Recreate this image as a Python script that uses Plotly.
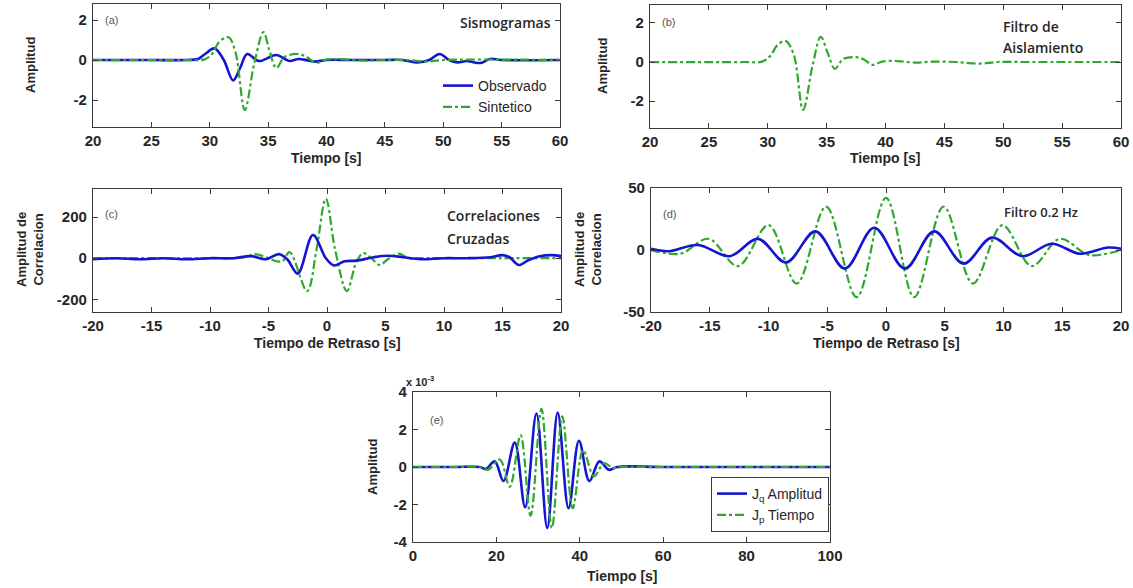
import plotly.graph_objects as go

W, H = 1133, 588

# ---------------- (a) Sismogramas ----------------
a_obs_t = [20, 25, 28, 29, 29.6, 30.4, 31.2, 32.0, 32.6, 33.2, 34.2, 35.7, 36.8, 37.6, 38.4, 39.0,
           40, 42, 45, 46.5, 47.8, 48.8, 49.7, 50.5, 51.2, 52.0, 52.5, 53.2, 54.0, 55, 60]
a_obs_v = [0, 0, 0, 0.05, 0.3, 0.58, 0, -1.02, -0.4, 0.3, -0.05, 0.25, -0.05, 0.05, -0.02, -0.08,
           0, 0, 0, 0, -0.12, 0, 0.3, 0, -0.12, -0.05, -0.1, -0.15, 0.05, 0, 0]
a_syn_t = [20, 28, 29.5, 30.2, 30.8, 31.6, 32.2, 33.0, 33.8, 34.6, 35.1, 35.7, 36.4, 37.6, 38.3,
           39.1, 39.8, 41, 43, 45, 47, 48.5, 50, 60]
a_syn_v = [0, 0, 0.02, 0.3, 0.9, 1.14, 0.4, -2.5, -0.2, 1.39, 0.5, -0.4, 0.15, 0.3, 0.15,
           -0.15, 0, 0.05, -0.03, 0, 0, -0.08, 0, 0]

# ---------------- (b) Filtro de Aislamiento ----------------
b_t = [20, 28, 29.5, 30.2, 30.8, 31.5, 32.2, 33.0, 33.8, 34.5, 35.1, 35.7, 36.4, 37.5, 38.2,
       38.9, 39.7, 41, 42.5, 44, 46, 48, 49.5, 52, 60]
b_v = [0, 0, 0.02, 0.3, 0.85, 1.08, 0.4, -2.45, -0.2, 1.29, 0.45, -0.35, 0.15, 0.25, 0.12,
       -0.15, 0.02, 0.05, -0.03, 0.02, 0, -0.08, 0, 0, 0]

# ---------------- (c) Correlaciones Cruzadas ----------------
c_obs_t = [-20, -18, -16, -14, -12, -10, -8, -6.5, -5.2, -4.1, -3.4, -2.5, -1.2, -0.1, 0.6, 1.5,
           2.5, 4, 5.2, 6.5, 8, 10, 12, 14, 15, 15.6, 16.4, 17.2, 18.2, 19.2, 20]
c_obs_v = [-5, 0, -5, 0, -5, 0, 0, 10, -5, 20, -5, -75, 113, 0, -35, -15,
           -12, 5, 12, 5, -5, 0, 0, 5, 15, 5, -33, -10, 10, 15, 10]
c_syn_t = [-20, -15, -10, -7, -6.2, -5.2, -4.3, -3.8, -3.2, -1.7, -0.9, -0.1, 0.7, 1.7, 2.5,
           3.1, 3.7, 4.5, 5.2, 6.1, 7, 8, 10, 15, 20]
c_syn_v = [0, 0, 0, 5, 20, 5, -15, -15, 30, -160, 40, 290, 40, -160, -20,
           25, 5, -33, -5, 22, 0, 0, 0, 0, 0]

# ---------------- (d) Filtro 0.2 Hz ----------------
d_obs_t = [-20, -18.5, -16, -13.3, -10.9, -8.5, -6.0, -3.5, -1.0, 1.6, 4.1, 6.6, 9.0, 11.6,
           14.1, 16.5, 18.9, 20]
d_obs_v = [1, -1, 4, -5, 9, -10, 15, -15, 18, -15, 15, -11, 10, -5, 5, -3, 2, 1]
d_syn_t = [-20, -17.5, -15.1, -12.6, -10, -7.6, -5.1, -2.5, 0, 2.4, 4.9, 7.4, 9.9, 12.4,
           14.8, 17.3, 20]
d_syn_v = [0, -3, 9, -13, 20, -27, 35, -38, 42, -38, 35, -27, 20, -13, 9, -4, 0]

# ---------------- (e) Jq / Jp (x 10^-3) ----------------
e_jq_t = [0, 10, 16, 17.5, 19.6, 21.7, 24.4, 26.9, 29.6, 32.2, 34.7, 37.3, 39.8, 42.3, 44.7,
          47, 49, 60, 80, 100]
e_jq_v = [0, 0, 0, -0.1, 0.3, -0.75, 1.3, -2.15, 2.85, -3.25, 2.9, -2.2, 1.4, -0.75, 0.3,
          -0.15, 0, 0, 0, 0]
e_jp_t = [0, 10, 16, 18, 20.8, 23.2, 25.8, 28.2, 30.8, 33.3, 35.8, 38.3, 40.8, 43.4, 45.8,
          48, 50, 60, 80, 100]
e_jp_v = [0, 0, 0, -0.15, 0.4, -1.05, 1.7, -2.6, 3.1, -3.25, 2.7, -2.2, 0.9, -0.5, 0.2,
          -0.05, 0, 0, 0, 0]

# tick values and labels (plain hyphen for negatives)
ticks_time_ab = [20, 25, 30, 35, 40, 45, 50, 55, 60]
ticks_lag = [-20, -15, -10, -5, 0, 5, 10, 15, 20]
ticks_time_e = [0, 20, 40, 60, 80, 100]
ticks_amp_ab = [-2, 0, 2]
ticks_corr_c = [-200, 0, 200]
ticks_corr_d = [-50, 0, 50]
ticks_amp_e = [-4, -2, 0, 2, 4]

BLUE = "#1515d0"
GREEN = "#2fa82f"
TXT = "#262626"
FONT = "Liberation Sans"

blue_line = dict(color=BLUE, width=2.6, shape="spline", smoothing=1.0)
green_line = dict(color=GREEN, width=2.2, dash="dashdot", shape="spline", smoothing=1.0)


def labels(vals):
    return [str(v) for v in vals]


fig = go.Figure()

# axes boxes in pixel coordinates: (left, right, top, bottom)
boxes = {
    "a": (93, 560, 4, 127),
    "b": (650, 1121, 5, 128),
    "c": (93, 561, 189, 312),
    "d": (651, 1121, 188, 312),
    "e": (413, 830, 392, 542),
}
axis_ids = {"a": "", "b": "2", "c": "3", "d": "4", "e": "5"}

xcfg = {
    "a": dict(range=[20, 60], tickvals=ticks_time_ab, ticktext=labels(ticks_time_ab)),
    "b": dict(range=[20, 60], tickvals=ticks_time_ab, ticktext=labels(ticks_time_ab)),
    "c": dict(range=[-20, 20], tickvals=ticks_lag, ticktext=labels(ticks_lag)),
    "d": dict(range=[-20, 20], tickvals=ticks_lag, ticktext=labels(ticks_lag)),
    "e": dict(range=[0, 100], tickvals=ticks_time_e, ticktext=labels(ticks_time_e)),
}
ycfg = {
    "a": dict(range=[-3.35, 2.8], tickvals=ticks_amp_ab, ticktext=labels(ticks_amp_ab)),
    "b": dict(range=[-3.38, 2.92], tickvals=ticks_amp_ab, ticktext=labels(ticks_amp_ab)),
    "c": dict(range=[-262, 337], tickvals=ticks_corr_c, ticktext=labels(ticks_corr_c)),
    "d": dict(range=[-50, 50], tickvals=ticks_corr_d, ticktext=labels(ticks_corr_d)),
    "e": dict(range=[-4, 4], tickvals=ticks_amp_e, ticktext=labels(ticks_amp_e)),
}

common = dict(showline=True, linecolor="#3a3a3a", linewidth=1.2, mirror="allticks",
              ticks="inside", ticklen=5, tickcolor="#3a3a3a", showgrid=False, zeroline=False,
              automargin=False,
              tickfont=dict(family=FONT, size=15, color=TXT, weight="bold"))

for k, (l, r, t, b) in boxes.items():
    i = axis_ids[k]
    fig.layout["xaxis" + i] = dict(domain=[l / W, r / W], anchor="y" + i,
                                   ticklabelstandoff=0, **xcfg[k], **common)
    fig.layout["yaxis" + i] = dict(domain=[1 - b / H, 1 - t / H], anchor="x" + i,
                                   ticklabelstandoff=2, **ycfg[k], **common)

# traces
fig.add_trace(go.Scatter(x=a_obs_t, y=a_obs_v, mode="lines", line=blue_line, name="Observado",
                         xaxis="x", yaxis="y", legend="legend"))
fig.add_trace(go.Scatter(x=a_syn_t, y=a_syn_v, mode="lines", line=green_line, name="Sintetico",
                         xaxis="x", yaxis="y", legend="legend"))
fig.add_trace(go.Scatter(x=b_t, y=b_v, mode="lines", line=green_line, showlegend=False,
                         xaxis="x2", yaxis="y2"))
fig.add_trace(go.Scatter(x=c_syn_t, y=c_syn_v, mode="lines", line=green_line, showlegend=False,
                         xaxis="x3", yaxis="y3"))
fig.add_trace(go.Scatter(x=c_obs_t, y=c_obs_v, mode="lines", line=blue_line, showlegend=False,
                         xaxis="x3", yaxis="y3"))
fig.add_trace(go.Scatter(x=d_syn_t, y=d_syn_v, mode="lines", line=green_line, showlegend=False,
                         xaxis="x4", yaxis="y4"))
fig.add_trace(go.Scatter(x=d_obs_t, y=d_obs_v, mode="lines", line=blue_line, showlegend=False,
                         xaxis="x4", yaxis="y4"))
fig.add_trace(go.Scatter(x=e_jq_t, y=e_jq_v, mode="lines", line=blue_line,
                         name="J<sub>q</sub> Amplitud", xaxis="x5", yaxis="y5", legend="legend2"))
fig.add_trace(go.Scatter(x=e_jp_t, y=e_jp_v, mode="lines", line=green_line,
                         name="J<sub>p</sub> Tiempo", xaxis="x5", yaxis="y5", legend="legend2"))

ann = []


def px_text(x, y, text, size=13, color=TXT, xanchor="center", angle=0, weight="normal", fam=FONT):
    ann.append(dict(x=x / W, y=1 - y / H, xref="paper", yref="paper", text=text,
                    showarrow=False, xanchor=xanchor, yanchor="middle", textangle=angle,
                    font=dict(family=fam, size=size, color=color, weight=weight)))


# axis titles
px_text(326, 158, "Tiempo [s]", 14, weight="bold")
px_text(885, 158, "Tiempo [s]", 14, weight="bold")
px_text(327, 343, "Tiempo de Retraso [s]", 14, weight="bold")
px_text(886, 343, "Tiempo de Retraso [s]", 14, weight="bold")
px_text(622, 576, "Tiempo [s]", 14, weight="bold")
px_text(31, 65, "Amplitud", 13, angle=-90, weight="bold")
px_text(602, 66, "Amplitud", 13, angle=-90, weight="bold")
px_text(30, 250, "Amplitud de<br>Correlacion", 13, angle=-90, weight="bold")
px_text(588, 250, "Amplitud de<br>Correlacion", 13, angle=-90, weight="bold")
px_text(372, 467, "Amplitud", 13, angle=-90, weight="bold")
px_text(404, 381, "x 10<sup>-3</sup>", 11, xanchor="left", weight="bold")

# panel tags
px_text(103, 20, "(a)", 11, color="#555", xanchor="left")
px_text(660, 22, "(b)", 11, color="#555", xanchor="left")
px_text(103, 214, "(c)", 11, color="#555", xanchor="left")
px_text(661, 214, "(d)", 11, color="#555", xanchor="left")
px_text(428, 420, "(e)", 11, color="#555", xanchor="left")

# panel titles
px_text(553, 22, "Sismogramas", 14, xanchor="right", fam="Open Sans", weight=600)
px_text(1001, 27, "Filtro de", 14, xanchor="left", fam="Open Sans", weight=600)
px_text(1001, 48, "Aislamiento", 14, xanchor="left", fam="Open Sans", weight=600)
px_text(445, 216, "Correlaciones", 14, xanchor="left", fam="Open Sans", weight=600)
px_text(445, 239, "Cruzadas", 14, xanchor="left", fam="Open Sans", weight=600)
px_text(1002, 212, "Filtro 0.2 Hz", 13, xanchor="left", fam="Open Sans", weight=600)

fig.update_layout(
    width=W, height=H,
    margin=dict(l=0, r=0, t=0, b=0),
    paper_bgcolor="white", plot_bgcolor="white",
    annotations=ann,
    legend=dict(x=438 / W, y=1 - 70 / H, xanchor="left", yanchor="top",
                bgcolor="rgba(0,0,0,0)", borderwidth=0, tracegroupgap=0,
                font=dict(family=FONT, size=14, color=TXT), itemwidth=30),
    legend2=dict(x=829 / W, y=1 - 477 / H, xanchor="right", yanchor="top",
                 bgcolor="white", bordercolor="#3a3a3a", borderwidth=1,
                 font=dict(family=FONT, size=14, color=TXT), itemwidth=30),
)

fig.write_html("out.html")
